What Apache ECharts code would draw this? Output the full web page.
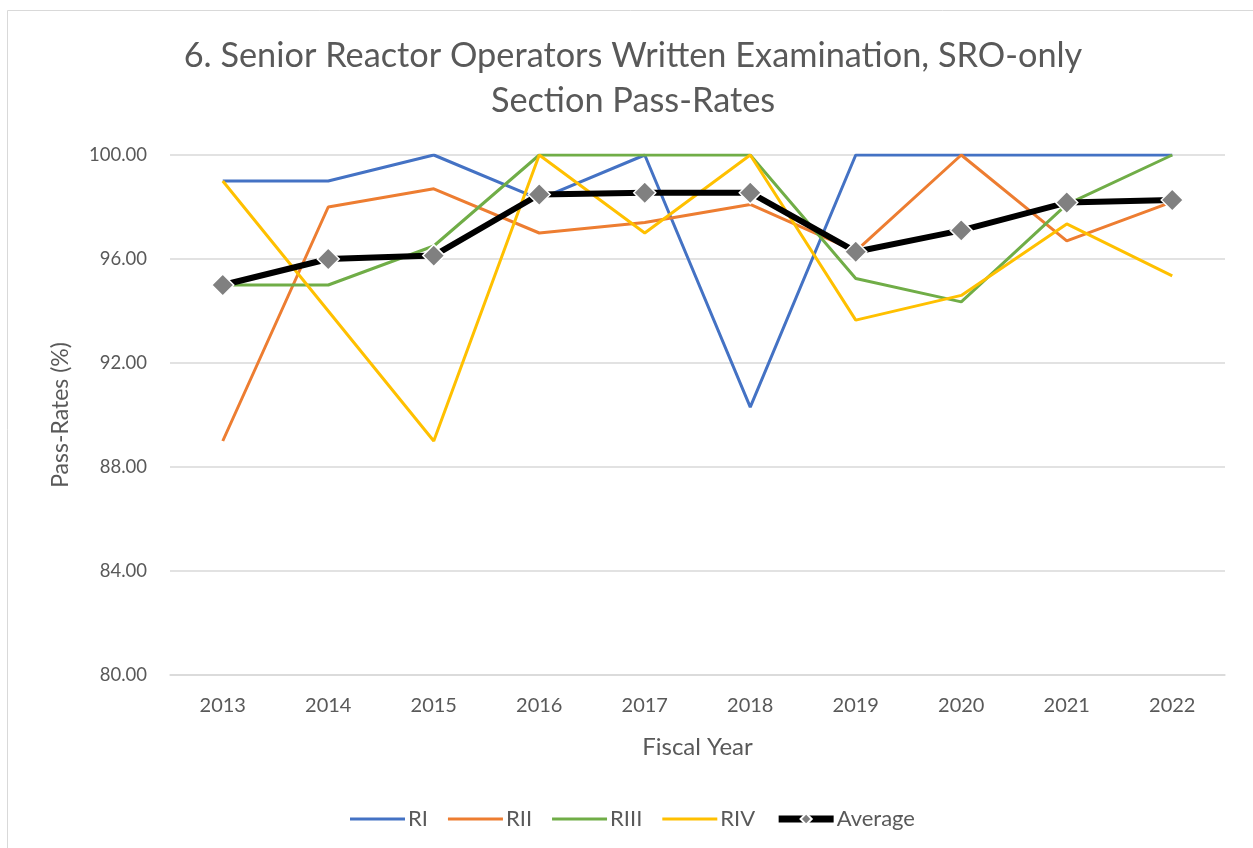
<!DOCTYPE html>
<html><head><meta charset="utf-8">
<script src="https://cdn.jsdelivr.net/npm/echarts@6/dist/echarts.min.js"></script>
<style>html,body{margin:0;padding:0;background:#fff}#c{width:1253px;height:848px}</style>
</head><body><div id="c"></div>
<script>
const years = ['2013','2014','2015','2016','2017','2018','2019','2020','2021','2022'];
const RI   = [99, 99, 100, 98.3, 100, 90.3, 100, 100, 100, 100];
const RII  = [89, 98, 98.7, 97, 97.4, 98.1, 96.3, 100, 96.7, 98.2];
const RIII = [95, 95, 96.5, 100, 100, 100, 95.25, 94.35, 98.1, 100];
const RIV  = [99, 94, 89, 100, 97, 100, 93.65, 94.6, 97.35, 95.35];
const Average = [95, 96, 96.13, 98.48, 98.55, 98.55, 96.28, 97.1, 98.17, 98.27];
const yTicks = {min: 80, max: 100, interval: 4};

const FONT = 'Lato';
const LINE_ICON = 'path://M0,0L55,0L55,3.2L0,3.2Z';
const chart = echarts.init(document.getElementById('c'), null, {renderer: 'canvas'});
function reg(name, data, color) {
  return {name, type: 'line', data, symbol: 'none', lineStyle: {color, width: 3}, itemStyle: {color}, z: 2};
}
chart.setOption({
  animation: false,
  textStyle: {fontFamily: FONT},
  graphic: [{type: 'rect', shape: {x: 7.5, y: 10.5, width: 1300, height: 900}, style: {fill: 'none', stroke: '#d9d9d9', lineWidth: 1}, silent: true}],
  title: {
    text: '6. Senior Reactor Operators Written Examination, SRO-only\nSection Pass-Rates',
    left: 628, textAlign: 'center', top: 28,
    textStyle: {fontFamily: FONT, fontSize: 34.3, fontWeight: 'normal', color: '#595959', lineHeight: 45}
  },
  grid: {left: 170, right: 28, top: 155, bottom: 173, containLabel: false},
  legend: {
    data: [
      {name: 'RI', icon: LINE_ICON},
      {name: 'RII', icon: LINE_ICON},
      {name: 'RIII', icon: LINE_ICON},
      {name: 'RIV', icon: LINE_ICON},
      {name: 'Average', lineStyle: {width: 7, color: '#000'}}
    ],
    left: 350, top: 808, padding: 0,
    itemWidth: 55, itemHeight: 14, itemGap: 20, symbolKeepAspect: true,
    textStyle: {fontFamily: FONT, fontSize: 22, color: '#595959', padding: [0, 0, 0, -2]}
  },
  xAxis: {
    type: 'category', data: years, boundaryGap: true,
    name: 'Fiscal Year', nameLocation: 'middle', nameGap: 60,
    nameTextStyle: {fontFamily: FONT, fontSize: 24, color: '#595959'},
    axisLine: {show: true, lineStyle: {color: '#d9d9d9', width: 1.5}},
    axisTick: {show: false},
    axisLabel: {fontFamily: FONT, fontSize: 20, color: '#595959', margin: 21}
  },
  yAxis: {
    type: 'value', min: yTicks.min, max: yTicks.max, interval: yTicks.interval,
    name: 'Pass-Rates (%)', nameLocation: 'middle', nameGap: 98, nameRotate: 90,
    nameTextStyle: {fontFamily: FONT, fontSize: 23, color: '#595959'},
    axisLine: {show: false}, axisTick: {show: false},
    splitLine: {lineStyle: {color: '#d9d9d9', width: 1.5}},
    axisLabel: {fontFamily: FONT, fontSize: 18.5, color: '#595959', margin: 23, formatter: v => v.toFixed(2)}
  },
  series: [
    reg('RI', RI, '#4472C4'),
    reg('RII', RII, '#ED7D31'),
    reg('RIII', RIII, '#70AD47'),
    reg('RIV', RIV, '#FFC000'),
    {name: 'Average', type: 'line', data: Average, symbol: 'diamond', symbolSize: 22,
     lineStyle: {color: '#000000', width: 6},
     itemStyle: {color: '#808080', borderColor: '#ffffff', borderWidth: 1.5}, z: 5}
  ]
});
</script></body></html>
